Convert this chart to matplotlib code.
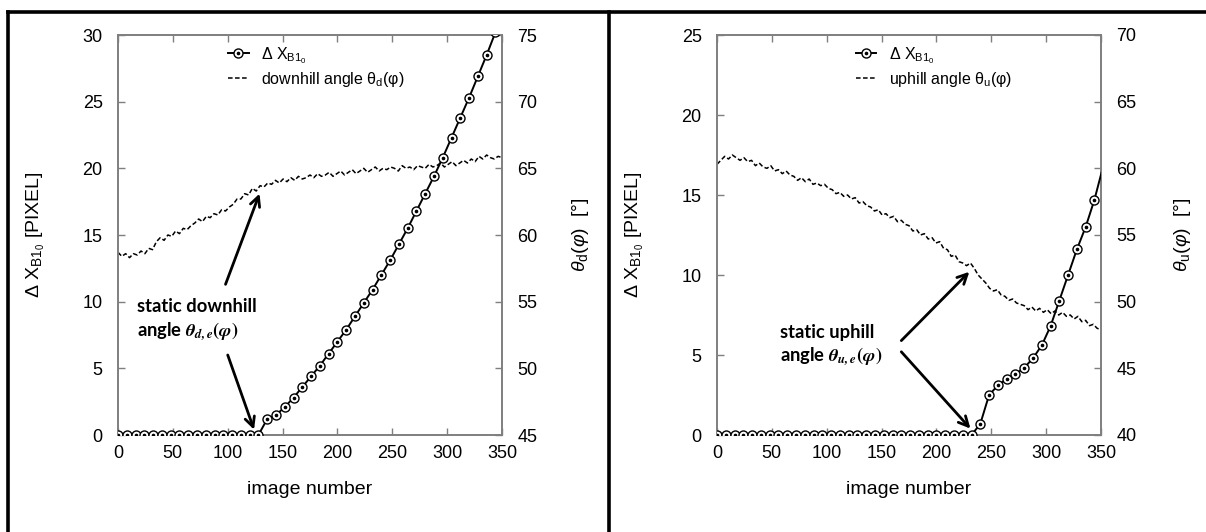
import numpy as np
import matplotlib
matplotlib.use('Agg')
import matplotlib.pyplot as plt
from matplotlib.lines import Line2D
from matplotlib.legend_handler import HandlerTuple

plt.rcParams['font.family'] = ['Liberation Sans', 'DejaVu Sans']
plt.rcParams['mathtext.fontset'] = 'custom'
plt.rcParams['mathtext.rm'] = 'Liberation Sans'
plt.rcParams['mathtext.it'] = 'Liberation Sans:italic'
plt.rcParams['mathtext.bf'] = 'Liberation Sans:bold'

# ---------------- data ----------------
# left panel: displacement (image number, pixel)
dx_left_img = [0, 8, 16, 24, 32, 40, 48, 56, 64, 72, 80, 88, 96, 104, 112, 120, 128,
               136, 144, 152, 160, 168, 176, 184, 192, 200, 208, 216, 224, 232, 240,
               248, 256, 264, 272, 280, 288, 296, 304, 312, 320, 328, 336, 344]
dx_left_val = [0] * 17 + [1.2, 1.5, 2.1, 2.8, 3.6, 4.4, 5.2, 6.1, 7.0, 7.9, 8.9, 9.9,
                          10.9, 12.0, 13.1, 14.3, 15.5, 16.8, 18.1, 19.4, 20.8, 22.3,
                          23.8, 25.3, 26.9, 28.5, 30.2]

# downhill angle (deg), sampled every 3.5 images from 0 to 350
theta_img = np.arange(0, 350.01, 3.5)
theta_d = [58.7, 58.4, 58.6, 58.3, 58.6, 58.5, 58.8, 58.6, 59.0, 58.9,
           59.5, 59.8, 59.6, 60.0, 59.9, 60.3, 60.1, 60.5, 60.4, 60.7,
           60.9, 61.2, 61.0, 61.4, 61.3, 61.6, 61.5, 61.9, 61.8, 62.1,
           62.3, 62.7, 62.7, 63.1, 63.0, 63.5, 63.3, 63.7, 63.6, 63.9,
           63.8, 64.1, 63.9, 64.2, 64.0, 64.3, 64.1, 64.4, 64.2, 64.3,
           64.5, 64.3, 64.6, 64.4, 64.5, 64.7, 64.4, 64.6, 64.8, 64.5,
           64.7, 64.9, 64.6, 64.8, 65.0, 64.7, 64.9, 65.1, 64.8, 65.0,
           64.9, 65.1, 65.0, 64.8, 65.2, 65.0, 65.1, 64.9, 65.2, 65.1,
           65.0, 65.3, 65.1, 65.2, 65.4, 65.1, 65.3, 65.5, 65.2, 65.4,
           65.6, 65.4, 65.7, 65.5, 65.9, 65.7, 66.0, 65.8, 65.7, 65.9,
           65.8]

# right panel
dx_right_img = [0, 8, 16, 24, 32, 40, 48, 56, 64, 72, 80, 88, 96, 104, 112, 120, 128,
                136, 144, 152, 160, 168, 176, 184, 192, 200, 208, 216, 224, 232,
                240, 248, 256, 264, 272, 280, 288, 296, 304, 312, 320, 328, 336, 344, 352]
dx_right_val = [0] * 30 + [0.7, 2.5, 3.1, 3.5, 3.8, 4.2, 4.8, 5.6, 6.8, 8.4, 10.0,
                           11.6, 13.0, 14.7, 16.8]

theta_u = [60.3, 60.6, 60.9, 60.7, 61.0, 60.8, 60.6, 60.8, 60.5, 60.6,
           60.2, 60.4, 60.1, 60.0, 60.2, 59.8, 59.9, 59.6, 59.8, 59.5,
           59.4, 59.1, 59.3, 59.0, 59.2, 58.8, 58.9, 58.7, 58.8, 58.5,
           58.4, 58.1, 58.2, 57.9, 58.0, 57.7, 57.8, 57.4, 57.5, 57.2,
           57.1, 56.8, 56.9, 56.5, 56.6, 56.3, 56.4, 56.0, 56.1, 55.8,
           55.7, 55.3, 55.4, 55.0, 55.1, 54.7, 54.8, 54.4, 54.5, 54.0,
           53.9, 53.4, 53.5, 53.0, 52.9, 52.7, 52.9, 52.5, 52.0, 51.7,
           51.4, 51.0, 50.8, 50.9, 50.5, 50.4, 50.1, 50.2, 49.9, 49.8,
           49.7, 49.4, 49.6, 49.3, 49.5, 49.2, 49.4, 49.1, 49.3, 49.0,
           49.2, 48.9, 49.0, 48.7, 48.9, 48.5, 48.6, 48.2, 48.3, 48.0,
           47.9]

x_ticks = [0, 50, 100, 150, 200, 250, 300, 350]

W, H = 1206, 532
fig = plt.figure(figsize=(W / 100, H / 100), dpi=100)

SPINE = '#7f7f7f'
TICKFS = 13


def style(ax, twin):
    for a in (ax, twin):
        for s in a.spines.values():
            s.set_color(SPINE)
            s.set_linewidth(1.2)
        a.tick_params(direction='in', length=5, width=1.0, color=SPINE,
                      labelsize=TICKFS)
        a.tick_params(axis='y', pad=11)
        a.tick_params(axis='x', pad=7)
    ax.tick_params(top=True)
    ax.set_xticks(x_ticks)
    ax.set_xlim(0, 350)
    ax.set_xlabel('image number', fontsize=14, labelpad=14)


def panel(px_left, dx_img, dx_val, th, ylim, ytk, tlim, ttk, tsub, tname,
          leg_x, ylab_l, ylab_r):
    ax = fig.add_axes([px_left / W, 1 - 435 / H, 384 / W, 400 / H])
    tw = ax.twinx()
    style(ax, tw)
    ax.set_ylim(*ylim)
    ax.set_yticks(ytk)
    tw.set_ylim(*tlim)
    tw.set_yticks(ttk)
    ln, = ax.plot(dx_img, dx_val, '-', color='black', lw=1.4, marker='o',
                  ms=6.5, mfc='white', mec='black', mew=1.0, zorder=4,
                  markevery=slice(0, len(dx_img) - 1) if dx_img[-1] > 350 else None)
    dt, = ax.plot([v for v in dx_img if v <= 350],
                  [d for v, d in zip(dx_img, dx_val) if v <= 350],
                  linestyle='none', marker='o', ms=1.6, color='black', zorder=5)
    dl, = tw.plot(theta_img, th, color='black', lw=1.1, ls=(0, (3, 1.6)))
    ax.set_zorder(tw.get_zorder() + 1)
    ax.patch.set_visible(False)
    ax.set_ylabel(r'$\Delta\ \mathrm{X}_{\mathrm{B1}_0}$ [PIXEL]', fontsize=14)
    ax.yaxis.set_label_coords(ylab_l, 0.5)
    tw.set_ylabel(r'$\theta_\mathrm{%s}(\varphi)$  [°]' % tsub, fontsize=14)
    tw.yaxis.set_label_coords(ylab_r, 0.5)
    ax.legend([(ln, dt), dl],
              [r'$\Delta\ \mathrm{X}_{\mathrm{B1}_0}$',
               '%s angle θ$_\\mathrm{%s}$(φ)' % (tname, tsub)],
              handler_map={tuple: HandlerTuple(ndivide=1)},
              loc='upper left', bbox_to_anchor=(leg_x, 0.995), frameon=False,
              fontsize=11.5, handlelength=1.3, handletextpad=0.8,
              borderpad=0, labelspacing=0.25)
    return ax


axL = panel(118, dx_left_img, dx_left_val, theta_d, (0, 30),
            [0, 5, 10, 15, 20, 25, 30], (45, 75), [45, 50, 55, 60, 65, 70, 75],
            'd', 'downhill', 0.265, -0.185, 1.177)
axR = panel(717, dx_right_img, dx_right_val, theta_u, (0, 25),
            [0, 5, 10, 15, 20, 25], (40, 70), [40, 45, 50, 55, 60, 65, 70],
            'u', 'uphill', 0.34, -0.185, 1.185)

# annotations
tfont = dict(family=['Lato', 'DejaVu Sans'], fontweight='bold', fontsize=13.2,
             va='center', ha='left', math_fontfamily='stix')
arrow = dict(arrowstyle='->,head_length=0.7,head_width=0.35', lw=2.0,
             color='black', shrinkA=0, shrinkB=0)

axL.text(17.5, 9.6, 'static downhill', **tfont)
axL.text(17.5, 7.8, r'angle $\mathbfit{\theta}_{\mathbfit{d,e}}\mathbf{(}\mathbfit{\varphi}\mathbf{)}$', **tfont)
axL.annotate('', xy=(129, 18.1), xytext=(98, 11.3), arrowprops=arrow)
axL.annotate('', xy=(124, 0.4), xytext=(100, 6.0), arrowprops=arrow)

axR.text(57, 6.4, 'static uphill', **tfont)
axR.text(57, 4.9, r'angle $\mathbfit{\theta}_{\mathbfit{u,e}}\mathbf{(}\mathbfit{\varphi}\mathbf{)}$', **tfont)
axR.annotate('', xy=(230, 10.2), xytext=(168, 5.9), arrowprops=arrow)
axR.annotate('', xy=(231, 0.4), xytext=(168, 5.2), arrowprops=arrow)

# frame lines
fy = 1 - 12 / H
fig.add_artist(Line2D([8 / W, 1.0], [fy, fy], transform=fig.transFigure,
                      color='black', lw=2.6, solid_capstyle='projecting'))
fig.add_artist(Line2D([8 / W, 8 / W], [0, fy], transform=fig.transFigure,
                      color='black', lw=2.6))
fig.add_artist(Line2D([609 / W, 609 / W], [0, fy], transform=fig.transFigure,
                      color='black', lw=2.6))

fig.savefig('out.png', dpi=100)
